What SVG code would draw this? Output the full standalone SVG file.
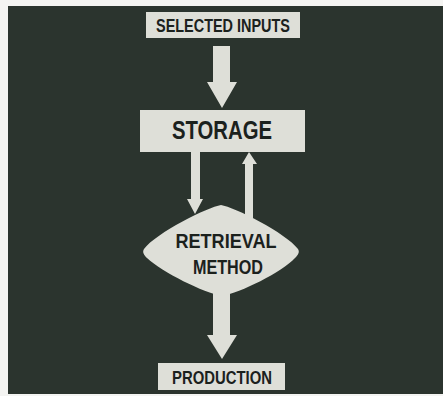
<svg xmlns="http://www.w3.org/2000/svg" width="443" height="396" viewBox="0 0 443 396">
<style>
.box{fill:#dedfd8}
.arr{fill:#dedfd8}
.t{font-family:"Liberation Sans",Arial,sans-serif;font-weight:bold;fill:#1b211d;text-anchor:middle}
</style>
<rect x="0" y="0" width="443" height="396" fill="#f4f4f2"/>
<rect x="8" y="6" width="435" height="388" fill="#2b342e"/>
<g id="connectors">
<polygon class="arr" points="213,46 230,46 230,82 237,82 222,108 207,82 213,82"/>
<polygon class="arr" points="191,152 200,152 200,199 203,199 195,214 187,199 191,199"/>
<polygon class="arr" points="245,225 253,225 253,164 257,164 249,152 242,164 245,164"/>
<polygon class="arr" points="213,285 230,285 230,335 237,335 222,359 207,335 213,335"/>
</g>
<g id="selected-inputs">
<rect class="box" x="146" y="12" width="154" height="26"/>
<text class="t" x="223" y="32" font-size="18" textLength="134" lengthAdjust="spacingAndGlyphs">SELECTED  INPUTS</text>
</g>
<g id="storage">
<rect class="box" x="140" y="110" width="165" height="42"/>
<text class="t" x="222" y="139" font-size="25" textLength="100" lengthAdjust="spacingAndGlyphs">STORAGE</text>
</g>
<g id="retrieval-method">
<path class="box" d="M221,205 C234,207 286,233 298,249 C300,252 298,255 295,258 C282,272 240,293 222,296 C204,293 162,272 147,258 C144,255 142,252 144,249 C156,233 208,207 221,205 Z"/>
<text class="t" x="226" y="248" font-size="21" textLength="101" lengthAdjust="spacingAndGlyphs">RETRIEVAL</text>
<text class="t" x="228" y="274" font-size="21" textLength="70" lengthAdjust="spacingAndGlyphs">METHOD</text>
</g>
<g id="production">
<rect class="box" x="158" y="363" width="127" height="27"/>
<text class="t" x="222" y="384" font-size="18" textLength="100" lengthAdjust="spacingAndGlyphs">PRODUCTION</text>
</g>
</svg>
